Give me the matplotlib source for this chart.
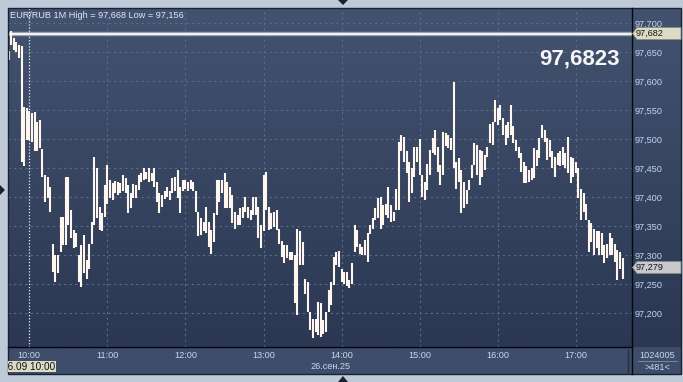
import matplotlib
matplotlib.use("Agg")
import matplotlib.pyplot as plt
import numpy as np
from matplotlib.colors import LinearSegmentedColormap
from matplotlib.patches import Rectangle, Polygon
from matplotlib.transforms import Bbox, TransformedBbox

plt.rcParams['font.family'] = ['Liberation Sans', 'DejaVu Sans']

# ---------------- data (2-minute high/low, minutes from 10:00, first bar at 09:44) -------------
start_minute = -16
step_minutes = 2
highs = [
    97.652, 97.687, 97.675, 97.667, 97.662, 97.660, 97.556, 97.553, 97.548, 97.545,
    97.546, 97.530, 97.533, 97.483, 97.438, 97.435, 97.418, 97.320, 97.300, 97.300,
    97.366, 97.366, 97.435, 97.435, 97.378, 97.343, 97.338, 97.300, 97.317, 97.335,
    97.292, 97.320, 97.358, 97.470, 97.450, 97.384, 97.372, 97.421, 97.456, 97.430,
    97.424, 97.428, 97.427, 97.424, 97.439, 97.433, 97.421, 97.407,
    97.422, 97.421, 97.438, 97.441, 97.450, 97.444, 97.450, 97.441, 97.450, 97.427,
    97.407, 97.404, 97.410, 97.418, 97.411, 97.433, 97.435, 97.447, 97.418, 97.430,
    97.430, 97.427, 97.430, 97.427, 97.410, 97.375, 97.364, 97.358, 97.384, 97.358,
    97.343, 97.372, 97.430, 97.430, 97.430, 97.441, 97.427, 97.418, 97.404, 97.375,
    97.369, 97.381, 97.384, 97.401, 97.384, 97.378, 97.401,
    97.401, 97.384, 97.352, 97.438, 97.444, 97.384, 97.372, 97.374, 97.378, 97.346,
    97.324, 97.317, 97.317, 97.306, 97.306, 97.300, 97.346, 97.341, 97.323, 97.260,
    97.254, 97.203, 97.191, 97.191, 97.220, 97.217, 97.188, 97.203, 97.240, 97.254,
    97.297, 97.306, 97.307, 97.277, 97.271, 97.271, 97.257, 97.286, 97.352, 97.343,
    97.320, 97.315, 97.326, 97.338, 97.352, 97.365, 97.381,
    97.398, 97.401, 97.387, 97.389, 97.418, 97.387, 97.375, 97.415, 97.496, 97.507,
    97.504, 97.479, 97.461, 97.450, 97.487, 97.487, 97.500, 97.438, 97.427, 97.458,
    97.481, 97.502, 97.516, 97.487, 97.456, 97.513, 97.510, 97.507, 97.502, 97.599,
    97.461, 97.467, 97.447, 97.427, 97.412, 97.430, 97.456, 97.493, 97.490, 97.481,
    97.479, 97.473, 97.487, 97.527, 97.530, 97.568, 97.553,
    97.559, 97.536, 97.525, 97.530, 97.559, 97.522, 97.499, 97.487, 97.476, 97.461,
    97.453, 97.447, 97.450, 97.484, 97.481, 97.502, 97.525, 97.516, 97.502, 97.499,
    97.479, 97.470, 97.476, 97.479, 97.487, 97.476, 97.504, 97.470, 97.467, 97.461,
    97.450, 97.415, 97.407, 97.389, 97.361, 97.355, 97.346, 97.341, 97.341, 97.338,
    97.317, 97.320, 97.338, 97.329, 97.320, 97.309, 97.306, 97.295,
]
lows = [
    97.637, 97.663, 97.654, 97.651, 97.640, 97.461, 97.453, 97.499, 97.499, 97.496,
    97.480, 97.479, 97.484, 97.435, 97.392, 97.398, 97.375, 97.271, 97.254, 97.269,
    97.306, 97.317, 97.317, 97.352, 97.329, 97.312, 97.315, 97.254, 97.246, 97.269,
    97.260, 97.277, 97.320, 97.352, 97.364, 97.343, 97.341, 97.366, 97.389, 97.398,
    97.395, 97.407, 97.404, 97.407, 97.410, 97.407, 97.372, 97.381,
    97.398, 97.398, 97.412, 97.427, 97.430, 97.431, 97.426, 97.428, 97.418, 97.392,
    97.372, 97.384, 97.397, 97.401, 97.395, 97.407, 97.410, 97.398, 97.372, 97.410,
    97.415, 97.411, 97.415, 97.410, 97.375, 97.334, 97.335, 97.341, 97.338, 97.315,
    97.303, 97.323, 97.369, 97.392, 97.407, 97.381, 97.381, 97.381, 97.355, 97.346,
    97.352, 97.352, 97.364, 97.375, 97.364, 97.361, 97.369,
    97.369, 97.329, 97.312, 97.341, 97.378, 97.343, 97.346, 97.349, 97.343, 97.320,
    97.297, 97.286, 97.295, 97.292, 97.292, 97.217, 97.197, 97.283, 97.283, 97.234,
    97.203, 97.171, 97.157, 97.168, 97.162, 97.159, 97.165, 97.168, 97.203, 97.214,
    97.249, 97.283, 97.280, 97.254, 97.251, 97.247, 97.244, 97.251, 97.306, 97.315,
    97.303, 97.300, 97.300, 97.289, 97.336, 97.345, 97.361,
    97.364, 97.346, 97.352, 97.369, 97.364, 97.358, 97.359, 97.378, 97.378, 97.479,
    97.461, 97.441, 97.392, 97.407, 97.435, 97.461, 97.438, 97.401, 97.395, 97.412,
    97.438, 97.476, 97.473, 97.444, 97.421, 97.438, 97.489, 97.484, 97.481, 97.450,
    97.415, 97.427, 97.372, 97.381, 97.389, 97.412, 97.433, 97.456, 97.438, 97.421,
    97.435, 97.447, 97.470, 97.493, 97.490, 97.530, 97.525,
    97.533, 97.507, 97.490, 97.502, 97.507, 97.493, 97.479, 97.467, 97.444, 97.424,
    97.424, 97.427, 97.430, 97.433, 97.453, 97.467, 97.502, 97.496, 97.464, 97.470,
    97.450, 97.435, 97.456, 97.453, 97.456, 97.450, 97.441, 97.424, 97.435, 97.441,
    97.398, 97.361, 97.375, 97.361, 97.306, 97.323, 97.300, 97.312, 97.300, 97.300,
    97.286, 97.295, 97.300, 97.300, 97.289, 97.257, 97.277, 97.260,
]
hour_ticks = [0, 60, 120, 180, 240, 300, 360, 420]
hour_labels = ["10:00", "11:00", "12:00", "13:00", "14:00", "15:00", "16:00", "17:00"]
price_ticks = [97.200, 97.250, 97.300, 97.350, 97.400, 97.450, 97.500, 97.550, 97.600, 97.650, 97.700]
price_labels = ["97,200", "97,250", "97,300", "97,350", "97,400", "97,450", "97,500",
                "97,550", "97,600", "97,650", "97,700"]
marker_price = 97.682
marker_label = "97,682"
last_price = 97.279
last_label = "97,279"
big_quote = "97,6823"
header = "EUR/RUB 1M High = 97,668 Low = 97,156"
date_label = "26.сен.25"
cursor_label = "26.09 10:00"
volume_label = "1024005"
count_label = ">481<"

# ---------------- figure ----------------
W, H = 683, 382
fig = plt.figure(figsize=(W / 100, H / 100), dpi=100)
fig.patch.set_facecolor('#bfcad9')

bg = fig.add_axes([0, 0, 1, 1], zorder=0)
bg.set_xlim(0, W)
bg.set_ylim(H, 0)
bg.axis('off')

L, R, T, B = 8, 631.5, 8, 347
PR = 681
grad = np.linspace(0, 1, 256).reshape(-1, 1)
cmap = LinearSegmentedColormap.from_list('g', ['#43536f', '#2b3753'])
bg.imshow(grad, extent=[L, PR, B, T], cmap=cmap, aspect='auto', zorder=0, interpolation='bilinear')
bg.add_patch(Rectangle((L, B), PR - L, 374 - B, facecolor='#3e4d69', edgecolor='none', zorder=1))

# plot axes
ax = fig.add_axes([L / W, 1 - B / H, (R - L) / W, (B - T) / H], zorder=1)
ax.patch.set_alpha(0)
ax.set_xlim(-16.4, 462.8)
ax.set_ylim(97.142, 97.726)
for s in ax.spines.values():
    s.set_visible(False)

times = start_minute + step_minutes * np.arange(len(highs))

for p in price_ticks:
    ax.axhline(p, color='#5a6c8c', lw=0.8, dashes=(2, 3), zorder=1)
for m in hour_ticks[1:]:
    ax.axvline(m, color='#5a6c8c', lw=0.8, dashes=(2, 3), zorder=1)
ax.axvline(hour_ticks[0], color='#eef2fa', lw=0.9, dashes=(1, 1.5), zorder=1)

ax.axhline(marker_price, color='#8e98a8', lw=3.2, zorder=2)
ax.axhline(marker_price, color='#f2f2f2', lw=1.6, zorder=3)

ax.vlines(times, lows, highs, color='#fff6ee', lw=1.5, zorder=4)

ax.yaxis.tick_right()
ax.set_yticks(price_ticks)
ax.set_yticklabels(price_labels)
ax.tick_params(axis='y', length=0, pad=2.2, labelsize=6.6, labelcolor='#c0d6f4')
ax.set_xticks(hour_ticks)
ax.set_xticklabels(hour_labels)
ax.tick_params(axis='x', length=0, pad=3.2, labelsize=6.6, labelcolor='#c8d8f0')

# overlay
ov = fig.add_axes([0, 0, 1, 1], zorder=2)
ov.set_xlim(0, W)
ov.set_ylim(H, 0)
ov.axis('off')
ov.patch.set_alpha(0)


def price_y(p):
    disp = ax.transData.transform((0, p))
    return ov.transData.inverted().transform(disp)[1]


# frame lines
ov.add_patch(Rectangle((L, T), PR - L, 374 - T, fill=False, edgecolor='#1b2333', lw=1.0))
ov.plot([R, R], [T, 374], color='#05070c', lw=1.0)
ov.plot([L, R], [B, B], color='#05070c', lw=1.0)
ov.plot([628, 628], [350, 372], color='#252e40', lw=1.0)

# price tags
def tag(p, text, face):
    y = price_y(p)
    poly = Polygon([(632.5, y), (637, y - 6), (PR, y - 6), (PR, y + 6), (637, y + 6)],
                   closed=True, facecolor=face, edgecolor='#8a8c80', lw=0.6, zorder=5)
    ov.add_patch(poly)
    ov.text(636, y, text, fontsize=6.6, color='#151515', ha='left', va='center', zorder=6)


tag(marker_price, marker_label, '#dcdcc6')
tag(last_price, last_label, '#c6cacf')

ov.text(620, 59, big_quote, fontsize=16, fontweight='bold', color='#f6f6f6', ha='right', va='center')
ov.text(10, 15, header, fontsize=6.6, color='#dfe7f3', ha='left', va='center')

# bottom texts
box = Rectangle((L, 361), 48, 11, facecolor='#dcdcc6', edgecolor='none', zorder=5)
ov.add_patch(box)
t = ov.text(55, 366.7, cursor_label, fontsize=7.2, color='#111111', ha='right', va='center', zorder=6)
t.set_clip_path(None)
t.set_clip_box(TransformedBbox(Bbox.from_extents(L, 361, L + 48, 372), ov.transData))
t.set_clip_on(True)
ov.text(331, 366.5, date_label, fontsize=6.6, color='#c8d8f0', ha='center', va='center')
ov.text(657, 355, volume_label, fontsize=6.6, color='#c8d8f0', ha='center', va='center')
ov.plot([638, 677], [361, 361], color='#7a88a0', lw=0.7)
ov.text(657, 367, count_label, fontsize=6.6, color='#c8d8f0', ha='center', va='center')

# small navigation triangles
ov.add_patch(Polygon([(338, 0), (348, 0), (343, 5)], closed=True, facecolor='#1a2130', edgecolor='none'))
ov.add_patch(Polygon([(0, 185), (0, 195), (5, 190)], closed=True, facecolor='#1a2130', edgecolor='none'))
ov.add_patch(Polygon([(338, 382), (348, 382), (343, 376)], closed=True, facecolor='#1a2130', edgecolor='none'))

fig.savefig('out.png', dpi=100, facecolor=fig.get_facecolor())
